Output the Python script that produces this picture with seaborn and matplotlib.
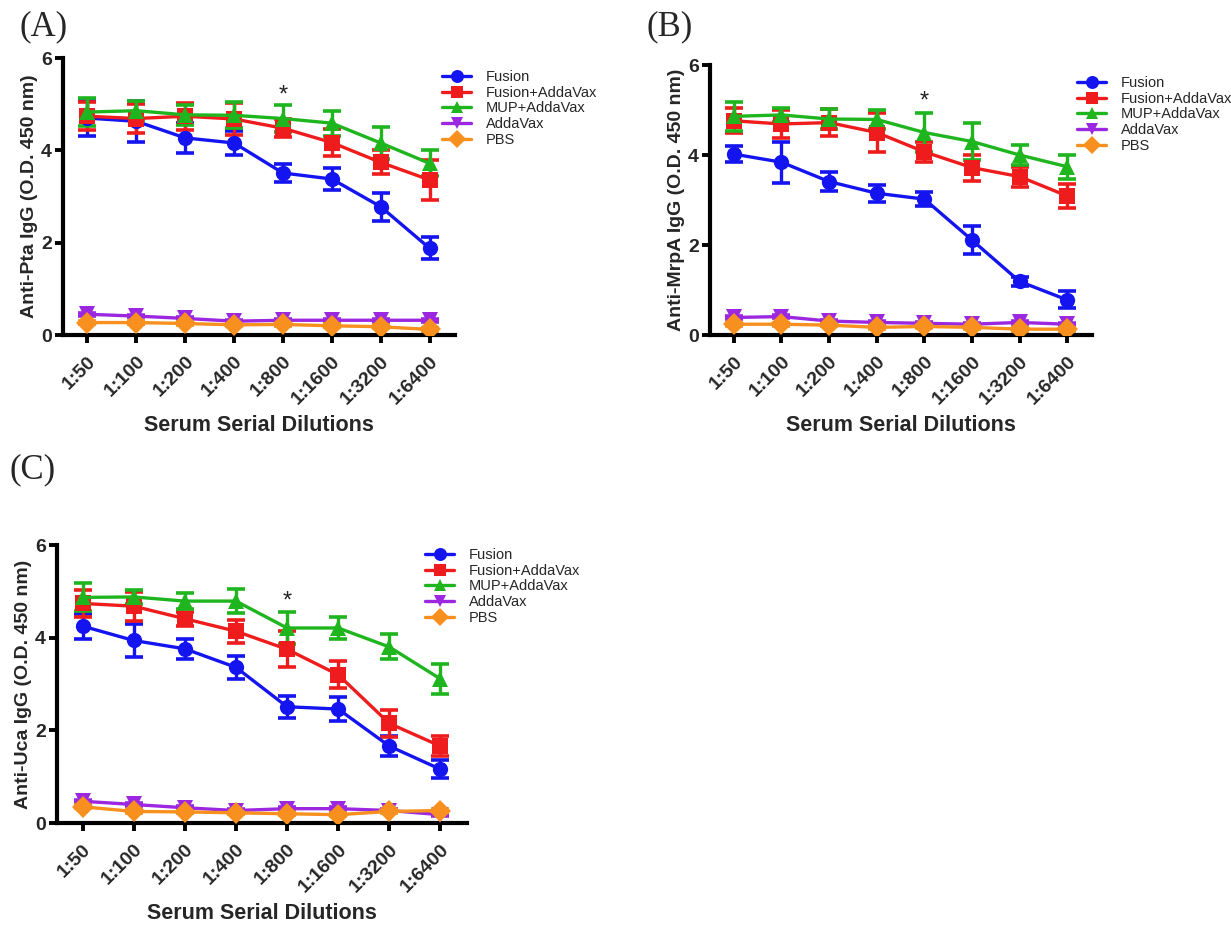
import numpy as np
import pandas as pd
import seaborn as sns
import matplotlib.pyplot as plt

# x categories
dilutions = ["1:50", "1:100", "1:200", "1:400", "1:800", "1:1600", "1:3200", "1:6400"]
groups = ["Fusion", "Fusion+AddaVax", "MUP+AddaVax", "AddaVax", "PBS"]

# (A) anti-Pta IgG, mean and error per group
pta_fusion = [4.70, 4.63, 4.27, 4.16, 3.51, 3.38, 2.78, 1.88]
pta_fusion_err = [0.38, 0.44, 0.33, 0.27, 0.20, 0.23, 0.30, 0.24]
pta_fus_adda = [4.74, 4.69, 4.74, 4.68, 4.48, 4.17, 3.74, 3.36]
pta_fus_adda_err = [0.30, 0.32, 0.29, 0.35, 0.20, 0.30, 0.26, 0.43]
pta_mup_adda = [4.83, 4.86, 4.77, 4.76, 4.69, 4.59, 4.16, 3.72]
pta_mup_adda_err = [0.30, 0.20, 0.22, 0.28, 0.30, 0.27, 0.35, 0.28]
pta_adda = [0.45, 0.41, 0.36, 0.30, 0.32, 0.32, 0.32, 0.32]
pta_adda_err = [0.03, 0.03, 0.03, 0.03, 0.03, 0.03, 0.03, 0.03]
pta_pbs = [0.27, 0.27, 0.25, 0.22, 0.23, 0.20, 0.18, 0.12]
pta_pbs_err = [0.03, 0.03, 0.03, 0.03, 0.03, 0.03, 0.03, 0.03]

# (B) anti-MrpA IgG
mrpa_fusion = [4.02, 3.84, 3.41, 3.15, 3.02, 2.11, 1.19, 0.78]
mrpa_fusion_err = [0.18, 0.46, 0.21, 0.19, 0.15, 0.31, 0.09, 0.19]
mrpa_fus_adda = [4.76, 4.69, 4.72, 4.50, 4.07, 3.72, 3.52, 3.09]
mrpa_fus_adda_err = [0.28, 0.31, 0.30, 0.43, 0.22, 0.29, 0.22, 0.27]
mrpa_mup_adda = [4.86, 4.89, 4.80, 4.79, 4.50, 4.30, 4.00, 3.74]
mrpa_mup_adda_err = [0.32, 0.15, 0.22, 0.22, 0.44, 0.42, 0.22, 0.27]
mrpa_adda = [0.39, 0.41, 0.31, 0.28, 0.26, 0.24, 0.28, 0.24]
mrpa_adda_err = [0.03, 0.03, 0.03, 0.03, 0.03, 0.03, 0.03, 0.03]
mrpa_pbs = [0.24, 0.24, 0.22, 0.17, 0.19, 0.17, 0.13, 0.13]
mrpa_pbs_err = [0.03, 0.03, 0.03, 0.03, 0.03, 0.03, 0.03, 0.03]

# (C) anti-Uca IgG
uca_fusion = [4.25, 3.94, 3.76, 3.36, 2.51, 2.46, 1.66, 1.16]
uca_fusion_err = [0.27, 0.35, 0.21, 0.25, 0.24, 0.25, 0.21, 0.19]
uca_fus_adda = [4.74, 4.68, 4.41, 4.14, 3.75, 3.20, 2.15, 1.66]
uca_fus_adda_err = [0.29, 0.31, 0.15, 0.25, 0.39, 0.29, 0.29, 0.22]
uca_mup_adda = [4.87, 4.88, 4.79, 4.79, 4.21, 4.21, 3.80, 3.11]
uca_mup_adda_err = [0.30, 0.15, 0.18, 0.26, 0.34, 0.24, 0.27, 0.33]
uca_adda = [0.47, 0.40, 0.33, 0.27, 0.31, 0.31, 0.27, 0.18]
uca_adda_err = [0.03, 0.03, 0.03, 0.03, 0.03, 0.03, 0.03, 0.03]
uca_pbs = [0.35, 0.25, 0.24, 0.22, 0.20, 0.18, 0.25, 0.27]
uca_pbs_err = [0.03, 0.03, 0.03, 0.03, 0.03, 0.03, 0.03, 0.03]

colors = {"Fusion": "#1414f0", "Fusion+AddaVax": "#ee1c1c", "MUP+AddaVax": "#1fb51f",
          "AddaVax": "#9b27e0", "PBS": "#f7901e"}
markers = {"Fusion": "o", "Fusion+AddaVax": "s", "MUP+AddaVax": "^", "AddaVax": "v", "PBS": "D"}

sns.set_theme(style="ticks")
plt.rcParams['font.family'] = ['Liberation Sans', 'DejaVu Sans']


def make_df(means, errs):
    rows = []
    for g, m, e in zip(groups, means, errs):
        for i, (v, s) in enumerate(zip(m, e)):
            rows.append({"pos": i, "dilution": dilutions[i], "group": g, "od": v, "err": s})
    return pd.DataFrame(rows)


panels = [
    ("(A)", "Anti-Pta IgG (O.D. 450 nm)", [0.0512, 0.6382, 0.3184, 0.2991],
     make_df([pta_fusion, pta_fus_adda, pta_mup_adda, pta_adda, pta_pbs],
             [pta_fusion_err, pta_fus_adda_err, pta_mup_adda_err, pta_adda_err, pta_pbs_err]),
     (20, 27), (442, 70), 5.18),
    ("(B)", "Anti-MrpA IgG (O.D. 450 nm)", [0.5768, 0.6382, 0.3103, 0.2916],
     make_df([mrpa_fusion, mrpa_fus_adda, mrpa_mup_adda, mrpa_adda, mrpa_pbs],
             [mrpa_fusion_err, mrpa_fus_adda_err, mrpa_mup_adda_err, mrpa_adda_err, mrpa_pbs_err]),
     (646, 27), (1077, 76), 5.18),
    ("(C)", "Anti-Uca IgG (O.D. 450 nm)", [0.0463, 0.1112, 0.3331, 0.3002],
     make_df([uca_fusion, uca_fus_adda, uca_mup_adda, uca_adda, uca_pbs],
             [uca_fusion_err, uca_fus_adda_err, uca_mup_adda_err, uca_adda_err, uca_pbs_err]),
     (10, 470), (425, 548), 4.78),
]

fig = plt.figure(figsize=(12.31, 9.26), dpi=100)
W, H = 1231, 926

for tag, ylab, rect, df, tag_xy, leg_xy, star_y in panels:
    ax = fig.add_axes(rect)
    for g in groups:
        d = df[df["group"] == g]
        ax.errorbar(d["pos"], d["od"], yerr=d["err"], fmt="none", ecolor=colors[g],
                    elinewidth=2.4, capsize=6.5, capthick=2.6, zorder=2)
    sns.lineplot(data=df, x="pos", y="od", hue="group", style="group", hue_order=groups,
                 style_order=groups, palette=colors, markers=markers, dashes=False,
                 markersize=11, markeredgewidth=0, linewidth=2.4, ax=ax, zorder=3)

    ax.set_xlim(-0.5, 7.52)
    ax.set_ylim(0, 6)
    ax.set_yticks([0, 2, 4, 6])
    ax.set_xticks(range(len(dilutions)))
    ax.set_xticklabels(dilutions, rotation=45, ha="right", rotation_mode="anchor",
                       fontsize=14, fontweight="bold")
    for lab in ax.get_yticklabels():
        lab.set_fontsize(14)
        lab.set_fontweight("bold")
    ax.tick_params(axis="both", width=2.8, length=6, color="black", pad=2)
    ax.tick_params(axis="x", pad=7)
    for s in ["left", "bottom"]:
        ax.spines[s].set_linewidth(3)
        ax.spines[s].set_color("black")
    sns.despine(ax=ax)
    ax.set_xlabel("Serum Serial Dilutions", fontsize=15.5, fontweight="bold", labelpad=5)
    ax.set_ylabel(ylab, fontsize=14, fontweight="bold", labelpad=2)

    ax.text(4, star_y, "*", ha="center", va="center", fontsize=17, color="#222222")

    handles, labels = ax.get_legend_handles_labels()
    ax.legend(handles, labels, loc="upper left",
              bbox_to_anchor=(leg_xy[0] / W, 1 - leg_xy[1] / H), bbox_transform=fig.transFigure,
              frameon=False, fontsize=10.5, handlelength=2.0, handletextpad=1.0,
              labelspacing=0.12, borderpad=0, borderaxespad=0, markerscale=0.85)

    fig.text(tag_xy[0] / W, 1 - tag_xy[1] / H, tag, fontsize=25,
             family=["Liberation Serif", "DejaVu Serif"], ha="left", va="center")

fig.savefig("out.png", dpi=100)
